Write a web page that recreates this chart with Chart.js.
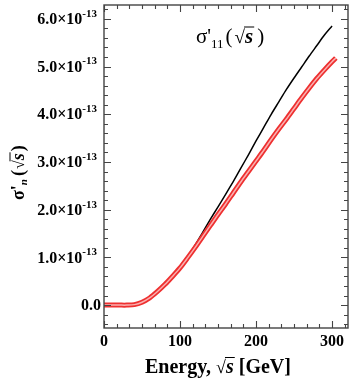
<!DOCTYPE html>
<html>
<head>
<meta charset="utf-8">
<script src="https://cdn.jsdelivr.net/npm/chart.js@4"></script>
<style>
  html, body { margin: 0; padding: 0; background: #fff; }
  #wrap { width: 355px; height: 380px; position: relative; }
</style>
</head>
<body>
<div id="wrap"><canvas id="c"></canvas></div>
<script>
// energy in GeV, cross sections in units of 1e-13
const energy = [0, 10, 20, 30, 40, 50, 60, 70, 80, 90, 100, 110, 120, 130, 140, 150,
                160, 170, 180, 190, 200, 210, 220, 230, 240, 250, 260, 270, 280, 290, 300];
const sigmaBlack = [0, 0, 0, 0, 0.01, 0.06, 0.15, 0.28, 0.43, 0.60, 0.79, 1.01, 1.26, 1.53, 1.80, 2.06,
                    2.32, 2.59, 2.87, 3.15, 3.44, 3.72, 4.00, 4.26, 4.52, 4.76, 4.99, 5.22, 5.44, 5.66, 5.85];
const energyRed = [0, 10, 20, 30, 40, 50, 60, 70, 80, 90, 100, 110, 120, 130, 140, 150,
                   160, 170, 180, 190, 200, 210, 220, 230, 240, 250, 260, 270, 280, 290, 300, 305];
const sigmaRed = [0, 0, 0, 0, 0.01, 0.06, 0.15, 0.28, 0.43, 0.60, 0.78, 0.99, 1.21, 1.44, 1.67, 1.90,
                  2.12, 2.35, 2.58, 2.80, 3.02, 3.24, 3.47, 3.69, 3.90, 4.12, 4.34, 4.55, 4.75, 4.93, 5.10, 5.18];
const xLabels = [0, 100, 200, 300];
const yLabels = [0, 1, 2, 3, 4, 5, 6];

const pts = (xa, ya) => xa.map((v, i) => ({ x: v, y: ya[i] }));
const SERIF = "'Liberation Serif', 'Times New Roman', serif";

// draws sqrt(s) with overbar, returns new x
function sqrtS(ctx, tx, ty, rootFont, sFont, barDy) {
  ctx.font = rootFont;
  ctx.fillText('√', tx, ty); tx += ctx.measureText('√').width;
  ctx.font = sFont;
  const w = ctx.measureText('s').width;
  ctx.fillText('s', tx, ty);
  ctx.beginPath(); ctx.moveTo(tx - 1, ty - barDy); ctx.lineTo(tx + w + 1, ty - barDy); ctx.stroke();
  return tx + w;
}

// frame, inward ticks, labels, titles
const decor = {
  id: 'decor',
  afterDraw(chart) {
    const { ctx, chartArea: { left, right, top, bottom }, scales: { x, y } } = chart;
    ctx.save();
    ctx.strokeStyle = '#444';
    ctx.lineWidth = 1.4;
    ctx.strokeRect(left, top, right - left, bottom - top);

    ctx.lineWidth = 1.1;
    ctx.beginPath();
    for (let k = 0; k <= 19; k++) {
      const v = k * 100 / 6;
      if (v > x.max) break;
      const px = Math.round(x.getPixelForValue(v)) + 0.5;
      const len = (k % 6 === 0) ? 7 : 4;
      ctx.moveTo(px, bottom); ctx.lineTo(px, bottom - len);
      ctx.moveTo(px, top); ctx.lineTo(px, top + len);
    }
    for (let k = -2; k <= 31; k++) {
      const v = k * 0.2;
      if (v < y.min || v > y.max) continue;
      const py = Math.round(y.getPixelForValue(v)) + 0.5;
      const len = (k % 5 === 0) ? 7 : 4;
      ctx.moveTo(left, py); ctx.lineTo(left + len, py);
      ctx.moveTo(right, py); ctx.lineTo(right - len, py);
    }
    ctx.stroke();

    ctx.fillStyle = '#000';
    ctx.strokeStyle = '#000';
    ctx.lineWidth = 1;
    // x tick labels
    ctx.font = 'bold 16px ' + SERIF;
    ctx.textAlign = 'center';
    ctx.textBaseline = 'top';
    xLabels.forEach(v => ctx.fillText(String(v), x.getPixelForValue(v), bottom + 6));

    // y tick labels with superscript
    ctx.textBaseline = 'middle';
    yLabels.forEach(v => {
      const py = y.getPixelForValue(v) + 1;
      if (v === 0) {
        ctx.font = 'bold 16px ' + SERIF;
        ctx.textAlign = 'right';
        ctx.fillText('0.0', left - 3, py);
        return;
      }
      const main = v.toFixed(1) + '×10';
      ctx.font = 'bold 11px ' + SERIF;
      const sup = '-13';
      const supW = ctx.measureText(sup).width;
      ctx.textAlign = 'left';
      const xEnd = left - 7;
      ctx.fillText(sup, xEnd - supW, py - 6);
      ctx.font = 'bold 16px ' + SERIF;
      ctx.textAlign = 'right';
      ctx.fillText(main, xEnd - supW, py);
    });

    // x title: Energy, √s [GeV]
    ctx.textAlign = 'left';
    ctx.textBaseline = 'alphabetic';
    let tx = 145, ty = 373;
    ctx.font = 'bold 20px ' + SERIF;
    ctx.fillText('Energy, ', tx, ty); tx += ctx.measureText('Energy, ').width;
    tx = sqrtS(ctx, tx, ty, '18px ' + SERIF, 'italic bold 20px ' + SERIF, 15.5);
    ctx.font = 'bold 20px ' + SERIF;
    ctx.fillText(' [GeV]', tx, ty);

    // inline label σ'11(√s)
    tx = 196; ty = 43;
    ctx.font = '21px ' + SERIF;
    ctx.fillText("σ'", tx, ty); tx += ctx.measureText("σ'").width;
    ctx.font = '13px ' + SERIF;
    ctx.fillText('11', tx, ty + 5); tx += ctx.measureText('11').width + 2;
    ctx.font = '21px ' + SERIF;
    ctx.fillText('(', tx, ty); tx += ctx.measureText('(').width + 2;
    tx = sqrtS(ctx, tx, ty, '19px ' + SERIF, 'italic bold 21px ' + SERIF, 16);
    tx += 4;
    ctx.font = '21px ' + SERIF;
    ctx.fillText(')', tx, ty);

    // y title σ'n(√s), rotated
    ctx.save();
    ctx.translate(24, 200);
    ctx.rotate(-Math.PI / 2);
    tx = 0; ty = 0;
    ctx.font = 'bold 18px ' + SERIF;
    ctx.fillText("σ'", tx, ty); tx += ctx.measureText("σ'").width;
    ctx.font = 'italic bold 11px ' + SERIF;
    ctx.fillText('n', tx, ty + 3); tx += ctx.measureText('n').width + 3;
    ctx.font = 'bold 18px ' + SERIF;
    ctx.fillText('(', tx, ty); tx += ctx.measureText('(').width + 1;
    tx = sqrtS(ctx, tx, ty, '16px ' + SERIF, 'italic bold 18px ' + SERIF, 14);
    tx += 2;
    ctx.font = 'bold 18px ' + SERIF;
    ctx.fillText(')', tx, ty);
    ctx.restore();

    ctx.restore();
  }
};

new Chart(document.getElementById('c'), {
  type: 'line',
  data: {
    datasets: [
      { data: pts(energy, sigmaBlack), borderColor: '#000', borderWidth: 1.5, pointRadius: 0, tension: 0.3, order: 3 },
      { data: pts(energyRed, sigmaRed), borderColor: '#ee3030', borderWidth: 5, pointRadius: 0, tension: 0.3, order: 2 },
      { data: pts(energyRed, sigmaRed), borderColor: '#fab0b0', borderWidth: 1.5, pointRadius: 0, tension: 0.3, order: 1 }
    ]
  },
  options: {
    responsive: true,
    maintainAspectRatio: false,
    animation: false,
    layout: { padding: { left: 104, right: 7, top: 5, bottom: 52 } },
    plugins: { legend: { display: false }, tooltip: { enabled: false } },
    scales: {
      x: { type: 'linear', min: 0, max: 321, grid: { display: false, drawTicks: false }, border: { display: false }, ticks: { display: false } },
      y: { type: 'linear', min: -0.48, max: 6.29, grid: { display: false, drawTicks: false }, border: { display: false }, ticks: { display: false } }
    }
  },
  plugins: [decor]
});
</script>
</body>
</html>
